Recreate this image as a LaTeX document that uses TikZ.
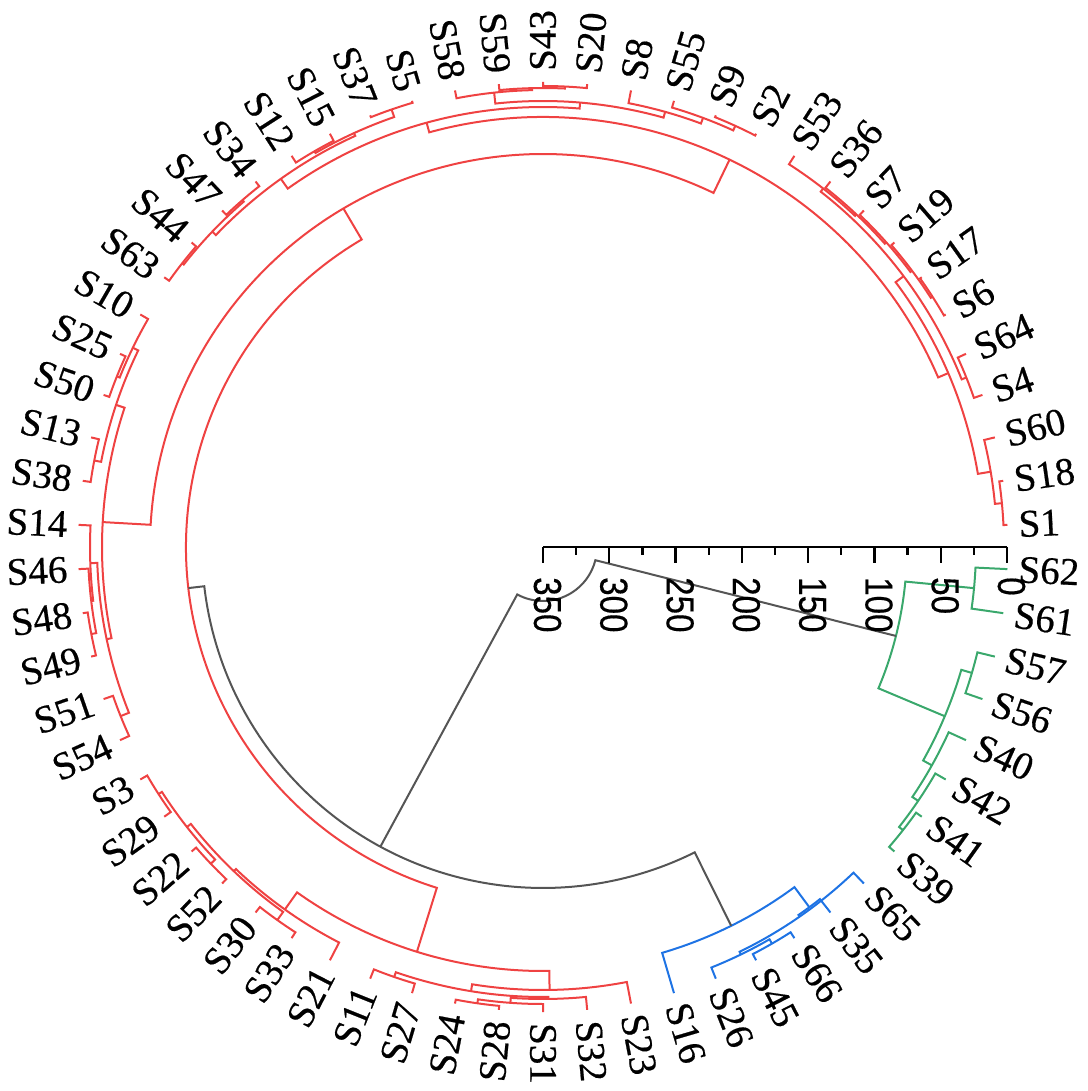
\documentclass[tikz,border=0pt]{standalone}
\usepackage{fontspec}
\setmainfont{Liberation Serif}
\newfontfamily\leaffamily{Liberation Serif}[FakeBold=0.5]
\newfontfamily\axisfamily{Liberation Sans}[FakeBold=0.4]
\usepackage{graphicx}
\definecolor{cred}{RGB}{239,66,66}
\definecolor{cblue}{RGB}{30,115,228}
\definecolor{cgreen}{RGB}{58,168,108}
\definecolor{cgray}{RGB}{85,85,85}
\tikzset{
  branch/.style={line width=2pt, line join=miter},
  leaflab/.style={font=\leaffamily\fontsize{39}{40}\selectfont, inner sep=0pt, text=black},
  axisline/.style={line width=2.6pt, black},
  tickline/.style={line width=2.4pt, black},
  ticklab/.style={font=\axisfamily\fontsize{39}{40}\selectfont, inner sep=0pt, rotate=-90, anchor=west}
}
\makeatletter
\def\dgleafr{465}
\def\dglabr{476}
\newif\ifdg@left
\newcommand\dleaf[2]{%
  \pgfmathsetmacro\dg@a{(#2-0.5)*60/11}%
  \expandafter\xdef\csname dgA@#1\endcsname{\dg@a}%
  \expandafter\xdef\csname dgR@#1\endcsname{\dgleafr}%
  \coordinate (#1) at (\dg@a:\dgleafr pt);
  \dg@leftfalse
  \ifdim\dg@a pt>90.01pt \ifdim\dg@a pt<269.99pt \dg@lefttrue\fi\fi
  \ifdg@left
    \node[leaflab, anchor=east, rotate=\dg@a-180] (l#1) at (\dg@a:\dglabr pt) {#1};
  \else
    \node[leaflab, anchor=west, rotate=\dg@a] (l#1) at (\dg@a:\dglabr pt) {#1};
  \fi
}
\newcommand\dmerge[5]{%
  \edef\dg@aa{\csname dgA@#2\endcsname}%
  \edef\dg@ab{\csname dgA@#3\endcsname}%
  \pgfmathsetmacro\dg@m{(\dg@aa+\dg@ab)/2}%
  \expandafter\xdef\csname dgA@#1\endcsname{\dg@m}%
  \expandafter\xdef\csname dgR@#1\endcsname{#4}%
  \draw[branch, #5] (#2) -- (\dg@aa:#4pt) arc[start angle=\dg@aa, end angle=\dg@ab, radius=#4pt] -- (#3);
  \coordinate (#1) at (\dg@m:#4pt);
}
\makeatother
\begin{document}
\begin{tikzpicture}[x=1pt,y=1pt]
\useasboundingbox (-543,-544) rectangle (544,547);
\foreach \n [count=\i] in {S1,S18,S60,S4,S64,S6,S17,S19,S7,S36,S53,S2,S9,S55,S8,S20,S43,S59,S58,S5,S37,S15,S12,S34,S47,S44,S63,S10,S25,S50,S13,S38,S14,S46,S48,S49,S51,S54,S3,S29,S22,S52,S30,S33,S21,S11,S27,S24,S28,S31,S32,S23,S16,S26,S45,S66,S35,S65,S39,S41,S42,S40,S56,S57,S61,S62}{\dleaf{\n}{\i}}
% red cluster
\dmerge{m1}{S18}{S1}{461}{cred}
\dmerge{m2}{S60}{m1}{454}{cred}
\dmerge{m3}{S17}{S6}{463}{cred}
\dmerge{m4}{S19}{m3}{461}{cred}
\dmerge{m5}{S7}{m4}{459}{cred}
\dmerge{m6}{S36}{m5}{457}{cred}
\dmerge{m7}{S53}{m6}{455}{cred}
\dmerge{m8}{S64}{S4}{456}{cred}
\dmerge{m9}{m8}{m7}{451}{cred}
\dmerge{m10}{m2}{m9}{441}{cred}
\dmerge{m11}{S9}{S2}{463}{cred}
\dmerge{m12}{S55}{m11}{458}{cred}
\dmerge{m13}{S8}{m12}{452}{cred}
\dmerge{m14}{S43}{S20}{461}{cred}
\dmerge{m15}{S59}{m14}{459}{cred}
\dmerge{m16}{S58}{m15}{457}{cred}
\dmerge{m17}{m16}{m13}{446}{cred}
\dmerge{m18}{S5}{S37}{463}{cred}
\dmerge{m19}{S15}{S12}{457}{cred}
\dmerge{m20}{m18}{m19}{455}{cred}
\dmerge{m21}{S34}{S47}{459}{cred}
\dmerge{m22}{S44}{S63}{459}{cred}
\dmerge{m23}{m21}{m22}{457}{cred}
\dmerge{m24}{m20}{m23}{452}{cred}
\dmerge{m25}{m17}{m24}{440}{cred}
\dmerge{m26}{m10}{m25}{430}{cred}
\dmerge{m27}{S25}{S50}{459}{cred}
\dmerge{m28}{S10}{m27}{456}{cred}
\dmerge{m29}{S13}{S38}{457}{cred}
\dmerge{m30}{m28}{m29}{450}{cred}
\dmerge{m31}{S48}{S49}{460}{cred}
\dmerge{m32}{S46}{m31}{455}{cred}
\dmerge{m33}{S14}{m32}{453}{cred}
\dmerge{m34}{S51}{S54}{455}{cred}
\dmerge{m35}{m33}{m34}{446}{cred}
\dmerge{m36}{m30}{m35}{441}{cred}
\dmerge{m37}{m26}{m36}{393}{cred}
\dmerge{m38}{S3}{S29}{457}{cred}
\dmerge{m39}{S22}{S52}{459}{cred}
\dmerge{m40}{m38}{m39}{453}{cred}
\dmerge{m41}{S30}{S33}{458}{cred}
\dmerge{m42}{m40}{m41}{448}{cred}
\dmerge{m43}{m42}{S21}{445}{cred}
\dmerge{m44}{S24}{S28}{461}{cred}
\dmerge{m45}{S31}{m44}{457}{cred}
\dmerge{m46}{S32}{m45}{452}{cred}
\dmerge{m47}{S11}{S27}{455}{cred}
\dmerge{m48}{m47}{m46}{450}{cred}
\dmerge{m49}{m48}{S23}{443}{cred}
\dmerge{m50}{m43}{m49}{424}{cred}
\dmerge{m51}{m37}{m50}{357}{cred}
% blue cluster
\dmerge{b1}{S45}{S66}{458}{cblue}
\dmerge{b2}{S26}{b1}{453}{cblue}
\dmerge{b3}{b2}{S65}{450}{cblue}
\dmerge{b4}{b3}{S35}{448}{cblue}
\dmerge{b5}{S16}{b4}{423}{cblue}
% green cluster
\dmerge{c1}{S39}{S41}{458}{cgreen}
\dmerge{c2}{S42}{c1}{453}{cgreen}
\dmerge{c3}{S40}{c2}{446}{cgreen}
\dmerge{c4}{S56}{S57}{447}{cgreen}
\dmerge{c5}{c3}{c4}{436}{cgreen}
\dmerge{c6}{S61}{S62}{433}{cgreen}
\dmerge{c7}{c5}{c6}{364}{cgreen}
% upper joins
\dmerge{g1}{m51}{b5}{341}{cgray}
\dmerge{root}{g1}{c7}{54}{cgray}
% height axis
\coordinate (axend) at (0,0);
\coordinate (axzero) at (464,0);
\draw[axisline] (axend) -- (axzero);
\foreach \h in {0,50,...,350}{
  \pgfmathsetmacro\xx{464*(1-\h/350)}
  \draw[tickline] (\xx,0) -- (\xx,-16.5);
  \node[ticklab] (tk\h) at (\xx+4.5,-30) {\scalebox{0.85}[1]{\h}};
}
\foreach \h in {25,75,...,325}{
  \pgfmathsetmacro\xx{464*(1-\h/350)}
  \draw[tickline] (\xx,0) -- (\xx,-8.5);
}
\end{tikzpicture}
\end{document}
